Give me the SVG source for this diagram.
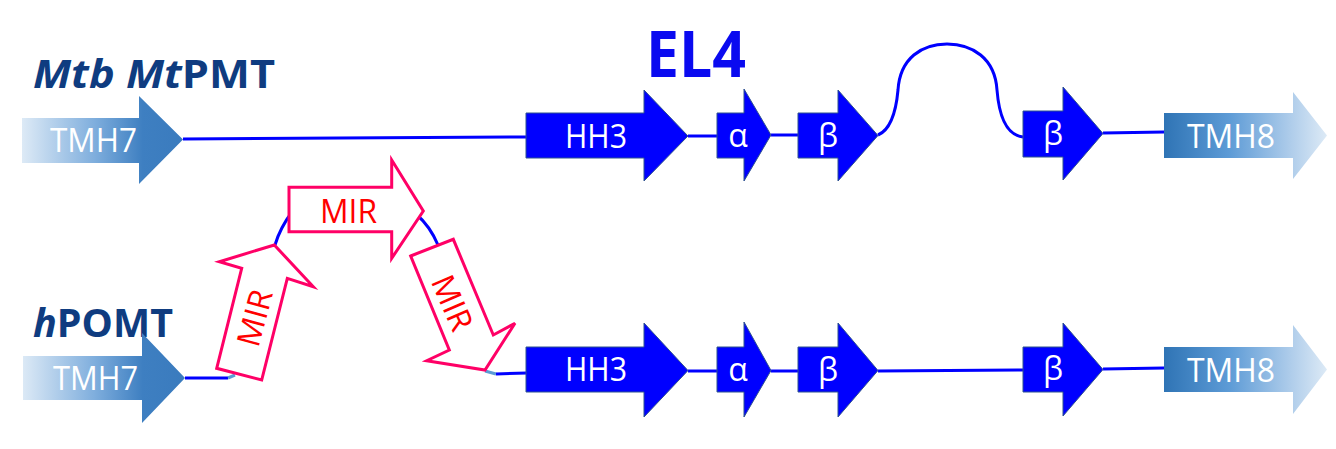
<svg xmlns="http://www.w3.org/2000/svg" width="1336" height="449" viewBox="0 0 1336 449">
<defs>
<linearGradient id="gIn" gradientUnits="userSpaceOnUse" x1="22" y1="0" x2="183" y2="0">
<stop offset="0" stop-color="#DDEAF6"/><stop offset="0.45" stop-color="#7FAEDD"/><stop offset="0.75" stop-color="#3E7FC1"/><stop offset="1" stop-color="#3A7BBE"/>
</linearGradient>
<linearGradient id="gOut" gradientUnits="userSpaceOnUse" x1="1164" y1="0" x2="1327" y2="0">
<stop offset="0" stop-color="#2F74B5"/><stop offset="0.4" stop-color="#5D9BD6"/><stop offset="0.75" stop-color="#A9C9E9"/><stop offset="1" stop-color="#DDEAF6"/>
</linearGradient>
<style>
.blk{fill:#0000FF;stroke:#2F528F;stroke-width:1}
.tin{fill:url(#gIn)}
.tout{fill:url(#gOut)}
.mir{fill:#FFFFFF;stroke:#FF0066;stroke-width:3;stroke-linejoin:miter}
.ln{fill:none;stroke:#0000FF;stroke-width:3}
.lb{fill:none;stroke:#5B9BD5;stroke-width:3}
.wt{font-family:'Open Sans','Noto Sans',sans-serif;font-size:32px;fill:#FFFFFF;text-anchor:middle}
.rt{font-family:'Open Sans','Noto Sans',sans-serif;font-size:32px;fill:#FF0000;text-anchor:middle}
.ttl{font-family:'Open Sans','Noto Sans',sans-serif;font-weight:bold;font-size:39px;fill:#0F3C80}
</style>
</defs>
<g id="connectors">
<path class="ln" d="M183,139 L527,137"/>
<path class="ln" d="M688,136 L717,136"/>
<path class="ln" d="M771,135 L798,135"/>
<path class="ln" d="M878,135 C890,130 896,112 898,90 C900,58 922,44 947,44 C972,44 995,58 997,90 C999,115 1006,135 1023,137"/>
<path class="ln" d="M1103,133 L1164,132"/>
<path class="ln" d="M185,378 L228,378"/>
<path class="lb" d="M228,378 L235,375"/>
<path class="ln" d="M275,245 Q280,228 292,212"/>
<path class="ln" d="M416,214 Q430,226 438,245"/>
<path class="lb" d="M485,371 L496,374"/>
<path class="ln" d="M496,374 L527,373"/>
<path class="ln" d="M688,371 L717,371"/>
<path class="ln" d="M771,371 L798,371"/>
<path class="ln" d="M878,371 L1023,370"/>
<path class="ln" d="M1103,369 L1164,368"/>
</g>
<g id="label-mtb"><text class="ttl" x="33" y="88" textLength="242" lengthAdjust="spacingAndGlyphs"><tspan font-style="italic">Mtb Mt</tspan>PMT</text></g>
<g id="label-hpomt"><text class="ttl" x="33" y="337" textLength="140" lengthAdjust="spacingAndGlyphs"><tspan font-style="italic">h</tspan>POMT</text></g>
<g id="label-el4"><text x="646" y="77" font-family="'Open Sans','Noto Sans',sans-serif" font-weight="bold" font-size="64" fill="#0A0AF0" textLength="100" lengthAdjust="spacingAndGlyphs">EL4</text></g>
<g id="top-tmh7"><polygon class="tin" points="22,118 139,118 139,96 183,139.5 139,184 139,163 22,163"/><text class="wt" x="93.5" y="152" textLength="87" lengthAdjust="spacingAndGlyphs">TMH7</text></g>
<g id="top-hh3"><polygon class="blk" points="526,113 644,113 644,90 688,136 644,181 644,158 526,158"/><text class="wt" x="596" y="148" textLength="62" lengthAdjust="spacingAndGlyphs">HH3</text></g>
<g id="top-alpha"><polygon class="blk" points="717,113 744,113 744,89 771,135 744,181 744,158 717,158"/><text class="wt" x="738" y="147">α</text></g>
<g id="top-beta1"><polygon class="blk" points="798,113 838,113 838,90 878,135.5 838,181 838,158 798,158"/><text class="wt" x="828" y="147">β</text></g>
<g id="top-beta2"><polygon class="blk" points="1023,111 1063,111 1063,87 1103,133.5 1063,180 1063,157 1023,157"/><text class="wt" x="1053" y="145">β</text></g>
<g id="top-tmh8"><polygon class="tout" points="1164,113 1293,113 1293,92 1327,135.5 1293,179 1293,158 1164,158"/><text class="wt" x="1231" y="148" textLength="88" lengthAdjust="spacingAndGlyphs">TMH8</text></g>
<g id="bot-tmh7"><polygon class="tin" points="23,356 142,356 142,333 185,378 142,423 142,400 23,400"/><text class="wt" x="95.5" y="390" textLength="85" lengthAdjust="spacingAndGlyphs">TMH7</text></g>
<g id="mir1"><polygon class="mir" points="216.7,368.3 241.7,268.3 219.3,261.7 274.3,245 313.3,286.7 287.3,278.3 261.7,380"/><text class="rt" transform="translate(255,318) rotate(-75)" x="0" y="11" textLength="57" lengthAdjust="spacingAndGlyphs">MIR</text></g>
<g id="mir2"><polygon class="mir" points="289,187.3 391.7,187.3 391.7,160 423.3,211 391.7,258.3 391.7,231.7 289,231.7"/><text class="rt" x="348.5" y="222.7" textLength="57" lengthAdjust="spacingAndGlyphs">MIR</text></g>
<g id="mir3"><polygon class="mir" points="410.7,256 453.3,239.3 493.3,335 515,323.3 485,370 426.7,360.7 449.3,350"/><text class="rt" transform="translate(452,303) rotate(66.5)" x="0" y="11" textLength="57" lengthAdjust="spacingAndGlyphs">MIR</text></g>
<g id="bot-hh3"><polygon class="blk" points="526,347 644,347 644,323 688,370.5 644,417 644,392 526,392"/><text class="wt" x="596" y="381" textLength="62" lengthAdjust="spacingAndGlyphs">HH3</text></g>
<g id="bot-alpha"><polygon class="blk" points="717,347 744,347 744,322 771,370.5 744,417 744,392 717,392"/><text class="wt" x="738" y="381">α</text></g>
<g id="bot-beta1"><polygon class="blk" points="798,347 838,347 838,323 878,370.5 838,417 838,392 798,392"/><text class="wt" x="828" y="381">β</text></g>
<g id="bot-beta2"><polygon class="blk" points="1023,347 1063,347 1063,323 1103,369.5 1063,416 1063,392 1023,392"/><text class="wt" x="1053" y="380">β</text></g>
<g id="bot-tmh8"><polygon class="tout" points="1164,347 1293,347 1293,325 1327,369.5 1293,414 1293,392 1164,392"/><text class="wt" x="1231" y="382" textLength="88" lengthAdjust="spacingAndGlyphs">TMH8</text></g>
</svg>
